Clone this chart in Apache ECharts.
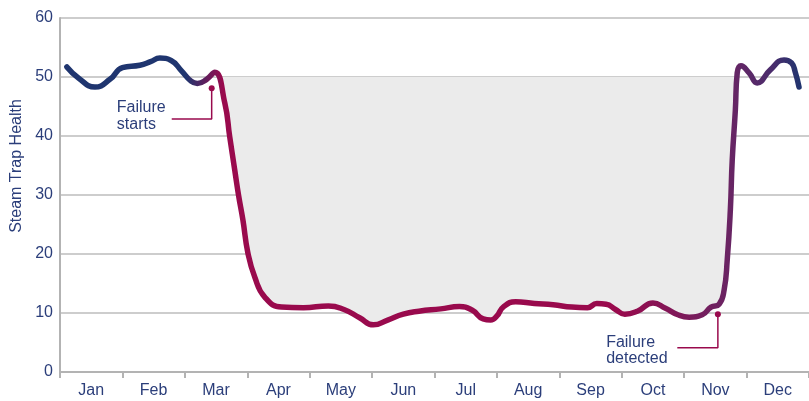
<!DOCTYPE html>
<html>
<head>
<meta charset="utf-8">
<script src="https://cdn.jsdelivr.net/npm/echarts@6/dist/echarts.min.js"></script>
<style>
html, body { margin: 0; padding: 0; background: #fff; }
#chart { width: 809px; height: 401px; }
</style>
</head>
<body>
<div id="chart"></div>
<script>
// month labels and y ticks
const months = ['Jan', 'Feb', 'Mar', 'Apr', 'May', 'Jun', 'Jul', 'Aug', 'Sep', 'Oct', 'Nov', 'Dec'];
const yTicks = [0, 10, 20, 30, 40, 50, 60];

// position along the year (in months from Jan 1) and steam trap health
const monthPos = [0.11, 0.3, 0.56, 0.8, 1.0, 1.28, 1.45, 1.6, 1.78, 1.95, 2.1, 2.2, 2.35, 2.48,
    2.64, 2.72, 2.8, 2.86, 2.93, 3.01, 3.12, 3.28, 3.55, 3.9, 4.3, 4.55, 4.8, 5.02, 5.25, 5.5,
    5.75, 6.1, 6.4, 6.6, 6.78, 6.9, 7.0, 7.1, 7.3, 7.6, 7.9, 8.2, 8.45, 8.6, 8.75, 8.9, 9.05,
    9.25, 9.5, 9.7, 9.9, 10.08, 10.29, 10.43, 10.56, 10.64, 10.69, 10.74, 10.77, 10.82, 10.85,
    10.91, 11.04, 11.17, 11.38, 11.6, 11.72, 11.78, 11.84];
const health = [51.7, 49.8, 48.3, 49.6, 51.6, 52.0, 52.6, 53.2, 52.8, 51.0, 49.3, 48.9, 49.6, 50.8,
    45.6, 39.8, 34.2, 30.0, 25.8, 20.2, 16.1, 12.7, 11.0, 10.9, 11.2, 10.6, 9.2, 8.0, 8.8, 9.8,
    10.3, 10.7, 11.1, 10.5, 9.0, 8.8, 9.5, 11.0, 11.9, 11.6, 11.4, 11.0, 10.9, 11.6, 11.5, 10.6, 9.8,
    10.3, 11.7, 10.8, 9.7, 9.3, 9.7, 11.0, 11.5, 13.9, 19.0, 27.5, 35.9, 44.4, 50.7,
    51.9, 50.7, 49.0, 51.2, 52.9, 52.4, 50.8, 48.3];

// failure window (lost steam shaded up to the normal level)
const failureStart = 2.48;
const failureEnd = 10.86;
const normalLevel = 50;

// annotation leaders: [month, health]
const startsLeader = [[2.43, 48.1], [2.43, 42.9], [1.79, 42.9]];
const detectedLeader = [[10.54, 9.8], [10.54, 4.1], [9.89, 4.1]];

const navy = '#1f356f';
const crimson = '#990a4d';
const purple = '#6a2463';
const labelColor = '#2b3e7a';
const font = 'Liberation Sans, Arial, sans-serif';

const lineData = monthPos.map((m, i) => [m, health[i]]);
const fillData = lineData.filter(p => p[0] >= failureStart && p[0] <= failureEnd);

const leaderData = pts => pts.map((p, i) => i === 0
    ? { value: p, symbol: 'circle', symbolSize: 6 }
    : { value: p, symbol: 'none' });

const chart = echarts.init(document.getElementById('chart'));

const option = {
    animation: false,
    grid: { left: 60, right: -1, top: 18, bottom: 29 },
    xAxis: [
        {
            type: 'value',
            min: 0,
            max: 12,
            interval: 1,
            axisLine: { show: true, onZero: false, lineStyle: { color: '#b3b3b3', width: 2 } },
            axisTick: { show: true, length: 6, lineStyle: { color: '#b3b3b3', width: 2 } },
            axisLabel: { show: false },
            splitLine: { show: false }
        },
        {
            type: 'category',
            position: 'bottom',
            data: months,
            boundaryGap: true,
            axisLine: { show: false },
            axisTick: { show: false },
            axisLabel: { color: labelColor, fontSize: 16, fontFamily: font, margin: 11, interval: 0 },
            splitLine: { show: false }
        }
    ],
    yAxis: {
        type: 'value',
        min: yTicks[0],
        max: yTicks[yTicks.length - 1],
        interval: 10,
        axisLine: { show: true, lineStyle: { color: '#b3b3b3', width: 2 } },
        axisTick: { show: false },
        axisLabel: { color: labelColor, fontSize: 16, fontFamily: font, margin: 7 },
        splitLine: { lineStyle: { color: '#bdbdbd', width: 1.5 } }
    },
    series: [
        {
            // shaded steam loss area between the curve and normal level
            type: 'line',
            data: fillData,
            smooth: 0.5,
            symbol: 'none',
            lineStyle: { width: 0 },
            areaStyle: { color: '#ebebeb', opacity: 1, origin: normalLevel },
            z: 1
        },
        {
            type: 'line',
            data: lineData,
            smooth: 0.5,
            symbol: 'none',
            lineStyle: {
                width: 5.5,
                cap: 'round',
                join: 'round',
                color: new echarts.graphic.LinearGradient(0, 0, 1, 0, [
                    { offset: 0, color: navy },
                    { offset: 0.165, color: navy },
                    { offset: 0.215, color: crimson },
                    { offset: 0.75, color: crimson },
                    { offset: 0.9, color: purple },
                    { offset: 0.96, color: '#4a2c6c' },
                    { offset: 1, color: navy }
                ])
            },
            z: 3
        },
        {
            type: 'line',
            data: leaderData(startsLeader),
            symbol: 'none',
            itemStyle: { color: crimson },
            lineStyle: { color: crimson, width: 1.5 },
            z: 4
        },
        {
            type: 'line',
            data: leaderData(detectedLeader),
            symbol: 'none',
            itemStyle: { color: crimson },
            lineStyle: { color: crimson, width: 1.5 },
            z: 4
        }
    ]
};

chart.setOption(option);

// text annotations placed in data coordinates
const toPx = p => chart.convertToPixel({ xAxisIndex: 0, yAxisIndex: 0 }, p);
const startsPos = toPx([0.91, 43.3]);
const detectedPos = toPx([8.75, 3.64]);
const lossPos = toPx([5.73, 34.4]);

chart.setOption({
    graphic: [
        {
            type: 'text',
            x: 17,
            y: 166,
            rotation: Math.PI / 2,
            style: {
                text: 'Steam Trap Health',
                fill: labelColor,
                font: '16px ' + font,
                align: 'center',
                verticalAlign: 'middle'
            }
        },
        {
            type: 'text',
            x: startsPos[0],
            y: startsPos[1],
            style: {
                text: 'Failure\nstarts',
                fill: labelColor,
                font: '16px ' + font,
                lineHeight: 17,
                align: 'left',
                verticalAlign: 'middle'
            }
        },
        {
            type: 'text',
            x: detectedPos[0],
            y: detectedPos[1],
            style: {
                text: 'Failure\ndetected',
                fill: labelColor,
                font: '16px ' + font,
                lineHeight: 16,
                align: 'left',
                verticalAlign: 'middle'
            }
        },
        {
            type: 'text',
            x: lossPos[0],
            y: lossPos[1],
            style: {
                text: '450,000 lbs Steam lost\nApprox. $4,500',
                fill: '#666666',
                font: 'bold 18px ' + font,
                lineHeight: 24,
                align: 'center',
                verticalAlign: 'middle'
            }
        }
    ]
});
</script>
</body>
</html>
